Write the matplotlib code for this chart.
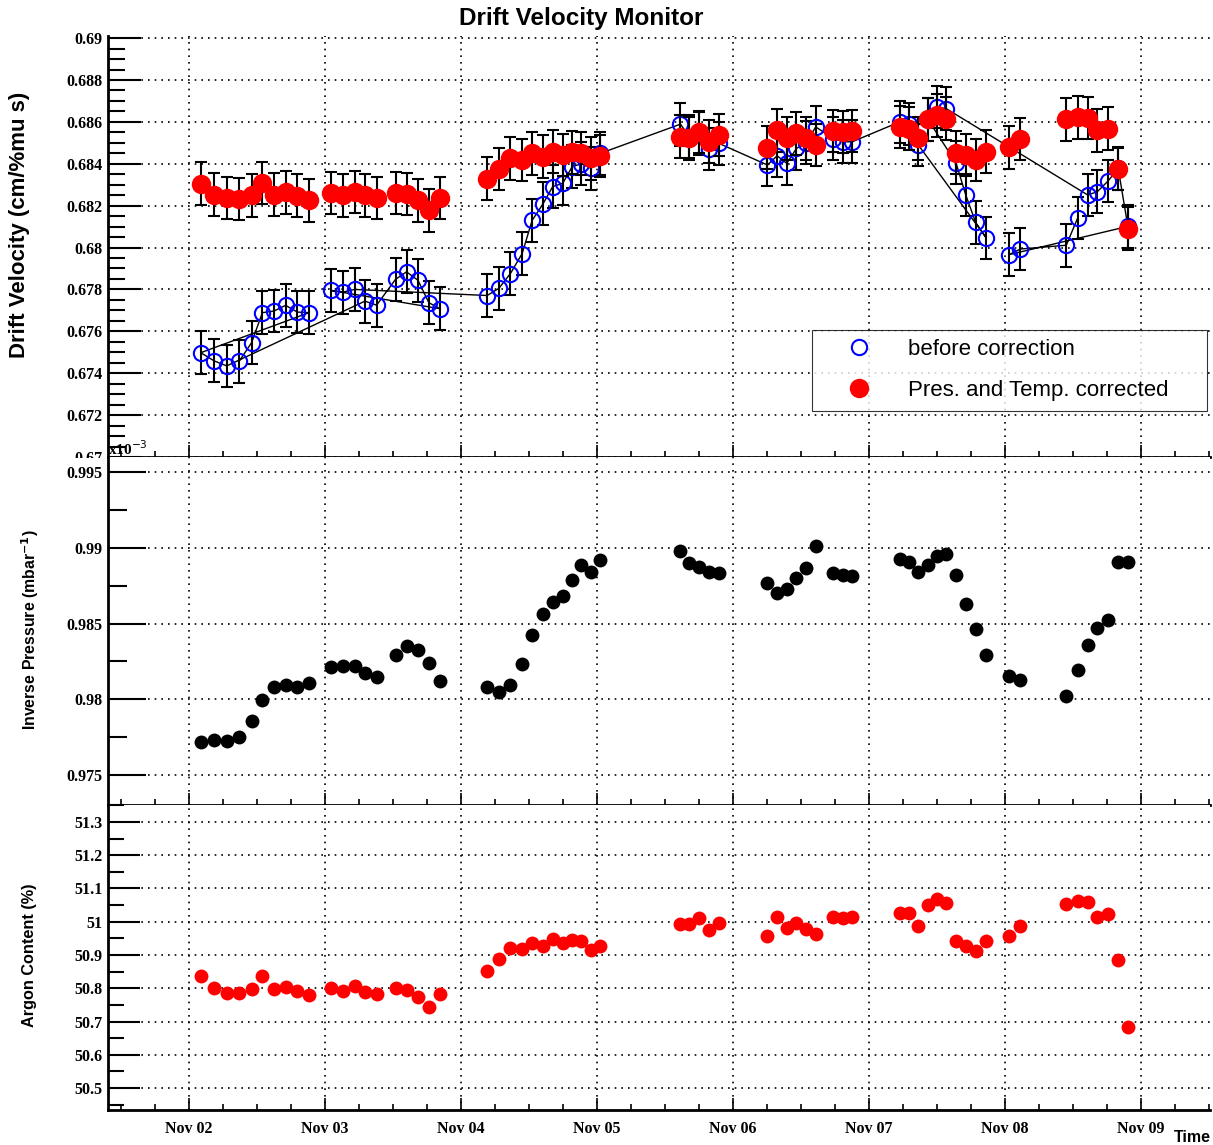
import numpy as np
import matplotlib
matplotlib.use("Agg")
import matplotlib.pyplot as plt
from matplotlib.ticker import MultipleLocator, FuncFormatter, FixedLocator
from matplotlib.patches import Rectangle

# time of each measurement, in days of November (Nov 02 00:00 = 2.0)
t_day = [2.086, 2.184, 2.277, 2.367, 2.460, 2.539, 2.625, 2.710, 2.796, 2.882,
         3.046, 3.131, 3.217, 3.293, 3.379, 3.518, 3.599, 3.683, 3.763, 3.844,
         4.192, 4.278, 4.363, 4.449, 4.523, 4.603, 4.674, 4.748, 4.817, 4.885, 4.956, 5.025,
         5.613, 5.679, 5.753, 5.824, 5.897,
         6.253, 6.324, 6.395, 6.466, 6.537, 6.608, 6.737, 6.811, 6.876,
         7.226, 7.297, 7.363, 7.434, 7.503, 7.568, 7.639, 7.711, 7.784, 7.863,
         8.029, 8.113,
         8.450, 8.534, 8.608, 8.679, 8.758, 8.832, 8.903]

# drift velocity before correction
dv_raw = [0.67498, 0.67459, 0.67435, 0.67456, 0.67546, 0.67689, 0.67697, 0.67724, 0.67692, 0.67689,
          0.67795, 0.67787, 0.67800, 0.67744, 0.67725, 0.67848, 0.67884, 0.67844, 0.67737, 0.67708,
          0.67771, 0.67805, 0.67876, 0.67971, 0.68130, 0.68209, 0.68291, 0.68307, 0.68386, 0.68400, 0.68378, 0.68450,
          0.68589, 0.68530, 0.68545, 0.68470, 0.68497,
          0.68394, 0.68438, 0.68402, 0.68473, 0.68500, 0.68576, 0.68520, 0.68505, 0.68505,
          0.68600, 0.68590, 0.68489, 0.68610, 0.68671, 0.68663, 0.68405, 0.68251, 0.68120, 0.68045,
          0.67966, 0.67993,
          0.68011, 0.68141, 0.68251, 0.68267, 0.68318, 0.68378, 0.68101]

# drift velocity corrected for pressure and temperature
dv_corr = [0.68305, 0.68252, 0.68237, 0.68232, 0.68249, 0.68308, 0.68252, 0.68263, 0.68248, 0.68225,
           0.68260, 0.68249, 0.68265, 0.68249, 0.68237, 0.68260, 0.68256, 0.68225, 0.68178, 0.68237,
           0.68328, 0.68375, 0.68426, 0.68418, 0.68450, 0.68434, 0.68457, 0.68442, 0.68454, 0.68450, 0.68426, 0.68437,
           0.68529, 0.68521, 0.68552, 0.68505, 0.68537,
           0.68476, 0.68560, 0.68521, 0.68545, 0.68521, 0.68489, 0.68556, 0.68552, 0.68556,
           0.68576, 0.68568, 0.68521, 0.68613, 0.68632, 0.68616, 0.68453, 0.68442, 0.68418, 0.68457,
           0.68478, 0.68518,
           0.68613, 0.68621, 0.68619, 0.68560, 0.68568, 0.68375, 0.68090]

dv_err = 0.00102

# inverse pressure (1/mbar, x1e-3)
inv_p = [0.97717, 0.97735, 0.97724, 0.97754, 0.97860, 0.97996, 0.98079, 0.98096, 0.98081, 0.98107,
         0.98213, 0.98221, 0.98217, 0.98171, 0.98147, 0.98292, 0.98349, 0.98327, 0.98239, 0.98123,
         0.98079, 0.98050, 0.98092, 0.98232, 0.98425, 0.98561, 0.98643, 0.98684, 0.98789, 0.98884, 0.98842, 0.98919,
         0.98980, 0.98897, 0.98876, 0.98843, 0.98832,
         0.98766, 0.98701, 0.98727, 0.98799, 0.98865, 0.99011, 0.98832, 0.98821, 0.98817,
         0.98924, 0.98908, 0.98843, 0.98886, 0.98945, 0.98956, 0.98821, 0.98629, 0.98461, 0.98293,
         0.98151, 0.98127,
         0.98024, 0.98192, 0.98360, 0.98472, 0.98526, 0.98904, 0.98904]

# argon content (%)
argon = [50.837, 50.801, 50.786, 50.786, 50.798, 50.836, 50.797, 50.804, 50.791, 50.780,
         50.802, 50.791, 50.806, 50.788, 50.783, 50.802, 50.795, 50.775, 50.745, 50.783,
         50.851, 50.887, 50.922, 50.919, 50.936, 50.926, 50.947, 50.936, 50.944, 50.941, 50.914, 50.927,
         50.992, 50.994, 51.010, 50.976, 50.997,
         50.956, 51.015, 50.982, 50.997, 50.979, 50.964, 51.013, 51.010, 51.013,
         51.027, 51.025, 50.987, 51.050, 51.067, 51.055, 50.941, 50.926, 50.912, 50.941,
         50.956, 50.986,
         51.052, 51.063, 51.058, 51.013, 51.023, 50.886, 50.683]

# order in which the graph points are stored (line joins them in this order)
line_order = ([3, 4, 5, 6, 7, 8, 9, 0, 1, 2] + list(range(13, 20)) + [10, 11, 12]
              + list(range(20, 49)) + [55, 54, 53, 52, 49, 50, 51, 60, 61, 62, 63, 64, 56, 57, 58, 59])

day_ticks = [2, 3, 4, 5, 6, 7, 8, 9]
day_labels = ["Nov 02", "Nov 03", "Nov 04", "Nov 05", "Nov 06", "Nov 07", "Nov 08", "Nov 09"]

plt.rcParams["font.family"] = ["Liberation Sans", "DejaVu Sans"]
W, H = 1213, 1145
fig = plt.figure(figsize=(W / 100, H / 100), dpi=100)

left = 108 / W
width = (1210 - 108) / W
ax1 = fig.add_axes([left, 1 - 457 / H, width, (457 - 36) / H])
ax2 = fig.add_axes([left, 1 - 805 / H, width, (805 - 457) / H])
ax3 = fig.add_axes([left, 1 - 1110 / H, width, (1110 - 805) / H])

tick_font = dict(family="Liberation Serif", weight="bold", size=11.5)
grid_style = dict(color="black", linestyle=(0, (1, 3)), linewidth=1.2)
fmt = FuncFormatter(lambda v, p: "%g" % round(v, 4))


def style(ax, ymaj, ymin, ylen):
    ax.set_xlim(1.404, 9.507)
    for s in ["top", "right"]:
        ax.spines[s].set_visible(False)
    for s in ["left", "bottom"]:
        ax.spines[s].set_linewidth(2)
    ax.xaxis.set_major_locator(FixedLocator(day_ticks))
    ax.xaxis.set_minor_locator(MultipleLocator(0.25))
    ax.yaxis.set_major_locator(MultipleLocator(ymaj))
    ax.yaxis.set_minor_locator(MultipleLocator(ymin))
    ax.yaxis.set_major_formatter(fmt)
    ax.tick_params(axis="y", which="major", direction="in", length=ylen, width=1.5, pad=4)
    ax.tick_params(axis="y", which="minor", direction="in", length=ylen * 0.5, width=1.5)
    ax.tick_params(axis="x", which="major", direction="in", length=9, width=1.2)
    ax.tick_params(axis="x", which="minor", direction="in", length=4.5, width=1.2)
    for lab in ax.get_yticklabels():
        lab.set_fontproperties(tick_font)
    ax.grid(True, which="major", **grid_style)
    ax.set_axisbelow(True)


t = np.array(t_day)
raw = np.array(dv_raw)
corr = np.array(dv_corr)
idx = np.array(line_order)

# top panel: drift velocity
ax1.plot(t[idx], raw[idx], color="black", linewidth=1, zorder=2)
ax1.errorbar(t, raw, yerr=dv_err, fmt="none", ecolor="black", elinewidth=1.5, capsize=4, capthick=1.5, zorder=3)
ax1.plot(t, raw, "o", markersize=11, markerfacecolor="none", markeredgecolor="blue", markeredgewidth=1.5,
         zorder=4, label="before correction")
ax1.errorbar(t, corr, yerr=dv_err, fmt="none", ecolor="black", elinewidth=1.5, capsize=4, capthick=1.5, zorder=5)
ax1.plot(t, corr, "o", markersize=14, color="red", markeredgewidth=0, zorder=6,
         label="Pres. and Temp. corrected")
ax1.set_ylim(0.67, 0.6901)
style(ax1, 0.002, 0.0005, 24)
ax1.set_xticklabels([])
leg = ax1.legend(loc="upper left", bbox_to_anchor=(0.639, 0.302, 0.358, 0.0), mode="expand",
                 fontsize=16, frameon=True, fancybox=False, edgecolor="black", borderpad=0.42,
                 labelspacing=0.9, handletextpad=0.5, handlelength=3.4, borderaxespad=0)
leg.get_frame().set_linewidth(0.8)

# middle panel: inverse pressure
ax2.plot(t, inv_p, "o", markersize=10, color="black", markeredgewidth=0)
ax2.set_ylim(0.97303, 0.99599)
style(ax2, 0.005, 0.0025, 27)
ax2.set_xticklabels([])

# bottom panel: argon content
ax3.plot(t, argon, "o", markersize=10, color="red", markeredgewidth=0)
ax3.set_ylim(50.434, 51.351)
style(ax3, 0.1, 0.05, 23)
ax3.set_xticklabels(day_labels)
for lab in ax3.get_xticklabels():
    lab.set_fontproperties(tick_font)
ax3.tick_params(axis="x", which="major", pad=8)

# hide lower half of the cut "0.67" label like the original
fig.add_artist(Rectangle((0, 1 - 465 / H), 104 / W, 7 / H, transform=fig.transFigure,
                         facecolor="white", edgecolor="none", zorder=5))
fig.text(108 / W, 1 - 455 / H, r"x10$^{-3}$", fontsize=11, family="Liberation Serif",
         weight="bold", ha="left", va="baseline", zorder=6)

fig.text(581 / W, 1 - 18 / H, "Drift Velocity Monitor", fontsize=17.5, weight="bold",
         ha="center", va="center")
fig.text(20 / W, 1 - 225 / H, "Drift Velocity (cm/%mu s)", fontsize=16, weight="bold",
         rotation=90, ha="center", va="center")
fig.text(30 / W, 1 - 630 / H, r"Inverse Pressure (mbar$^{\mathbf{-1}}$)", fontsize=11.4, weight="bold",
         rotation=90, ha="center", va="center")
fig.text(30 / W, 1 - 955 / H, "Argon Content (%)", fontsize=11.7, weight="bold",
         rotation=90, ha="center", va="center")
fig.text(1211 / W, 1 - 1138 / H, "Time", fontsize=11.5, weight="bold", ha="right", va="center")

fig.savefig("out.png", dpi=100)
